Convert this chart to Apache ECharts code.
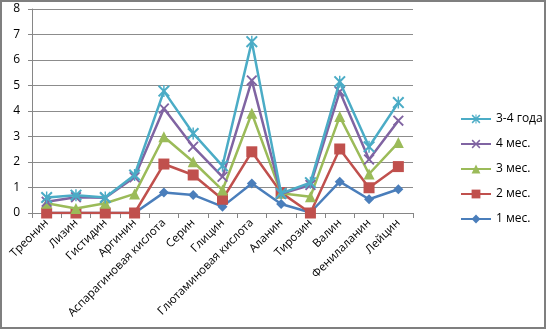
<!DOCTYPE html>
<html><head><meta charset="utf-8">
<script src="https://cdn.jsdelivr.net/npm/echarts@6/dist/echarts.min.js"></script>
<style>html,body{margin:0;padding:0;background:#fff}#c{width:547px;height:330px}</style>
</head><body><div id="c"></div>
<script>
const categories = ['Треонин','Лизин','Гистидин','Аргинин','Аспарагиновая кислота','Серин','Глицин','Глютаминовая кислота','Аланин','Тирозин','Валин','Фенилаланин','Лейцин'];
const m1 = [0, 0, 0, 0, 0.8, 0.71, 0.25, 1.16, 0.35, 0.02, 1.23, 0.54, 0.93];
const m2 = [0, 0, 0, 0, 1.92, 1.49, 0.54, 2.4, 0.8, 0, 2.51, 0.99, 1.82];
const m3 = [0.38, 0.18, 0.38, 0.75, 2.99, 2.01, 0.9, 3.91, 0.77, 0.64, 3.78, 1.53, 2.76];
const m4 = [0.44, 0.62, 0.6, 1.4, 4.1, 2.6, 1.42, 5.2, 0.75, 1.1, 4.76, 2.1, 3.62];
const y34 = [0.61, 0.7, 0.61, 1.49, 4.78, 3.12, 1.85, 6.72, 0.77, 1.19, 5.15, 2.6, 4.33];
const yTicks = [0,1,2,3,4,5,6,7,8];
const seriesNames = ['1 мес.','2 мес.','3 мес.','4 мес.','3-4 года'];
const legendOrder = ['3-4 года','4 мес.','3 мес.','2 мес.','1 мес.'];
const colors = ['#4A7EBB','#C0504D','#9BBB59','#8064A2','#4BACC6'];
const xSym = 'path://M0,1.2 L1.2,0 L5,3.8 L8.8,0 L10,1.2 L6.2,5 L10,8.8 L8.8,10 L5,6.2 L1.2,10 L0,8.8 L3.8,5 Z';
const starSym = 'path://M0,1.2 L1.2,0 L5,3.8 L8.8,0 L10,1.2 L6.2,5 L10,8.8 L8.8,10 L5,6.2 L1.2,10 L0,8.8 L3.8,5 Z M4.4,0 L5.6,0 L5.6,10 L4.4,10 Z';
const symbols = ['diamond','rect','triangle',xSym,starSym];
const sizes = [10,11,11,11,12];
const dataSets = [m1,m2,m3,m4,y34];
const chart = echarts.init(document.getElementById('c'));
chart.setOption({
  animation:false,
  color: colors,
  textStyle:{fontFamily:'"Open Sans", "Noto Sans", sans-serif'},
  graphic:[{type:'rect',shape:{x:1,y:1,width:544,height:327},style:{fill:'none',stroke:'#7f7f7f',lineWidth:2},z:-1}],
  grid:{left:32,right:134,top:9,bottom:117},
  legend:{orient:'vertical',left:455,top:108,itemWidth:30,itemHeight:11,itemGap:13,data:legendOrder,
    textStyle:{fontSize:12,color:'#000',fontFamily:'"Open Sans", sans-serif'}},
  xAxis:{type:'category',data:categories,boundaryGap:true,
    axisLine:{lineStyle:{color:'#868686'}},
    axisTick:{show:true,alignWithLabel:false,length:5,lineStyle:{color:'#868686'}},
    axisLabel:{rotate:45,fontSize:11.5,color:'#000',margin:8,interval:0}},
  yAxis:{type:'value',min:yTicks[0],max:yTicks[yTicks.length-1],interval:1,
    axisLine:{show:true,lineStyle:{color:'#868686'}},
    axisTick:{show:true,length:4,lineStyle:{color:'#868686'}},
    splitLine:{lineStyle:{color:'#8c8c8c'}},
    axisLabel:{fontSize:12,color:'#000',margin:12,showMaxLabel:true,showMinLabel:true}},
  series: seriesNames.map((n,i)=>({name:n,type:'line',data:dataSets[i],symbol:symbols[i],symbolSize:sizes[i],
    lineStyle:{width:2.5,color:colors[i]},itemStyle:{color:colors[i]},z:2+i}))
});
</script></body></html>
